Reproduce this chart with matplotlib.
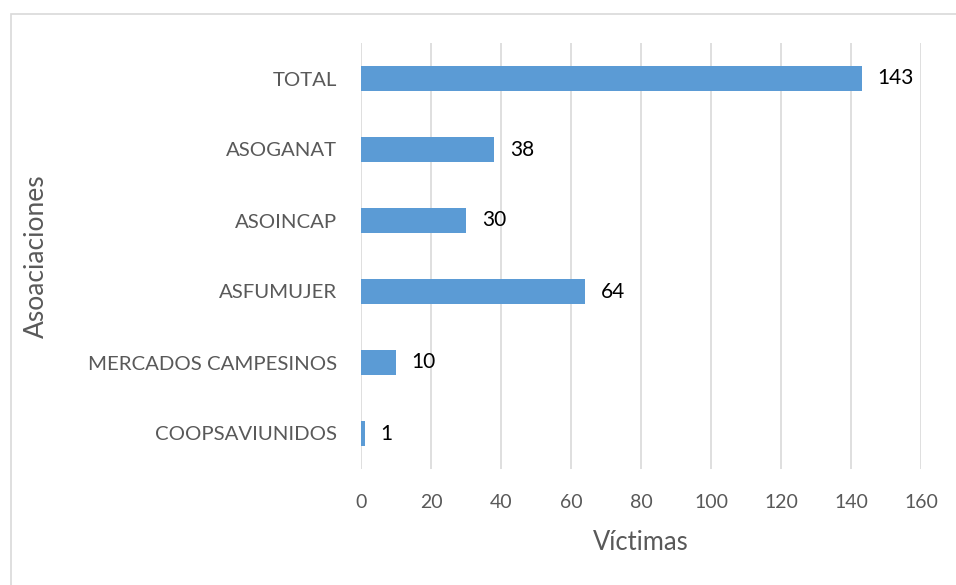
import matplotlib.pyplot as plt
from matplotlib.patches import Rectangle

plt.rcParams['font.family'] = ['Lato', 'DejaVu Sans']

categories = ['COOPSAVIUNIDOS', 'MERCADOS CAMPESINOS', 'ASFUMUJER',
              'ASOINCAP', 'ASOGANAT', 'TOTAL']
victims = [1, 10, 64, 30, 38, 143]
xticks = [0, 20, 40, 60, 80, 100, 120, 140, 160]

fig = plt.figure(figsize=(9.56, 5.85), dpi=100)
fig.patches.append(Rectangle((11 / 956, -0.01), 1, 1 - 14 / 585 + 0.01,
                             transform=fig.transFigure, fill=False,
                             edgecolor='#D9D9D9', linewidth=1.2))
ax = fig.add_axes([361 / 956, 1 - 469 / 585, 560 / 956, 426 / 585])

pos = range(len(categories))
ax.barh(pos, victims, height=0.35, color='#5B9BD5', zorder=3)
for y, v in zip(pos, victims):
    ax.text(v + 4.5, y, str(v), va='center', ha='left', fontsize=15,
            color='black')

ax.set_xlim(0, 160)
ax.set_ylim(-0.5, len(categories) - 0.5)
ax.set_xticks(xticks)
ax.set_yticks(list(pos))
ax.set_yticklabels(categories)
ax.tick_params(length=0, labelcolor='#595959')
ax.tick_params(axis='x', pad=18, labelsize=14)
ax.tick_params(axis='y', pad=17, labelsize=14.7)
ax.grid(axis='x', color='#D9D9D9', linewidth=1.2, zorder=0)
for s in ax.spines.values():
    s.set_visible(False)

ax.set_xlabel('Víctimas', fontsize=18.4, color='#595959', labelpad=14)
fig.text(36 / 956, 1 - 256 / 585, 'Asoaciaciones', rotation=90, fontsize=19,
         color='#595959', ha='center', va='center')

fig.savefig('out.png', dpi=100)
